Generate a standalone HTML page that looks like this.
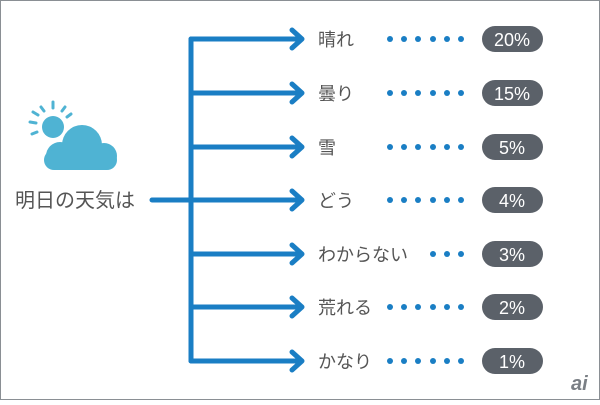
<!DOCTYPE html>
<html><head><meta charset="utf-8"><style>
body{margin:0;width:600px;height:400px;overflow:hidden;background:#fff}
.f{font-family:"Liberation Sans","Noto Sans CJK JP",sans-serif}
</style></head><body>
<svg width="600" height="400" xmlns="http://www.w3.org/2000/svg">
<defs>
<g id="d6"><circle cx="390" cy="0" r="3"/><circle cx="404" cy="0" r="3"/><circle cx="418" cy="0" r="3"/><circle cx="433" cy="0" r="3"/><circle cx="447" cy="0" r="3"/><circle cx="461" cy="0" r="3"/></g>
</defs>
<rect x="0.5" y="0.5" width="599" height="399" fill="#fff" stroke="#8a8f94"/>
<g fill="#4fb3d3">
<g stroke="#4fb3d3" stroke-width="3" stroke-linecap="round">
<line x1="53" y1="102" x2="53" y2="108"/><line x1="41" y1="107" x2="44" y2="111"/>
<line x1="65" y1="107" x2="62" y2="111"/><line x1="30" y1="122" x2="36" y2="123"/>
<line x1="32" y1="134" x2="37" y2="132"/><line x1="71" y1="114" x2="67" y2="117"/>
<line x1="33" y1="112" x2="38" y2="115"/>
</g>
<circle cx="53" cy="127" r="11"/>
<circle cx="60" cy="156" r="16" fill="#fff"/>
<circle cx="82" cy="145" r="23" fill="#fff"/>
<circle cx="60" cy="156" r="14"/>
<circle cx="82" cy="145" r="20"/>
<circle cx="104" cy="156" r="13"/>
<rect x="44" y="150" width="73" height="20" rx="10"/>
</g>
<text x="15" y="207" class="f" font-size="20" fill="#555">明日の天気は</text>
<g stroke="#1a7ec4" stroke-width="5" fill="none" stroke-linecap="round" stroke-linejoin="round">
<line x1="152" y1="200" x2="191" y2="200"/>
<line x1="191" y1="39" x2="191" y2="361"/>
<path d="M191 39H302M292 30L302 39L292 48"/>
<path d="M191 93H302M292 84L302 93L292 102"/>
<path d="M191 147H302M292 138L302 147L292 156"/>
<path d="M191 200H302M292 191L302 200L292 209"/>
<path d="M191 254H302M292 245L302 254L292 263"/>
<path d="M191 307H302M292 298L302 307L292 316"/>
<path d="M191 361H302M292 352L302 361L292 370"/>
</g>
<g class="f" font-size="18" fill="#555">
<text x="318" y="46">晴れ</text><text x="318" y="100">曇り</text>
<text x="318" y="154">雪</text><text x="318" y="207">どう</text>
<text x="318" y="261">わからない</text><text x="318" y="314">荒れる</text>
<text x="318" y="368">かなり</text>
</g>
<g fill="#1a7ec4">
<use href="#d6" y="39"/><use href="#d6" y="93"/><use href="#d6" y="147"/><use href="#d6" y="200"/><use href="#d6" y="307"/><use href="#d6" y="361"/>
<circle cx="433" cy="254" r="3"/><circle cx="447" cy="254" r="3"/><circle cx="461" cy="254" r="3"/>
</g>
<g fill="#5b6169">
<rect x="482" y="26" width="61" height="26" rx="13"/><rect x="482" y="80" width="61" height="26" rx="13"/>
<rect x="482" y="134" width="61" height="26" rx="13"/><rect x="482" y="187" width="61" height="26" rx="13"/>
<rect x="482" y="241" width="61" height="26" rx="13"/><rect x="482" y="294" width="61" height="26" rx="13"/>
<rect x="482" y="348" width="61" height="26" rx="13"/>
</g>
<g class="f" font-size="18" fill="#fff" text-anchor="middle">
<text x="512" y="46">20%</text><text x="512" y="100">15%</text><text x="512" y="154">5%</text>
<text x="512" y="207">4%</text><text x="512" y="261">3%</text><text x="512" y="314">2%</text><text x="512" y="368">1%</text>
</g>
<text x="571" y="390" class="f" font-size="20" font-style="italic" font-weight="bold" fill="#7a7f85">ai</text>
</svg>
</body></html>
